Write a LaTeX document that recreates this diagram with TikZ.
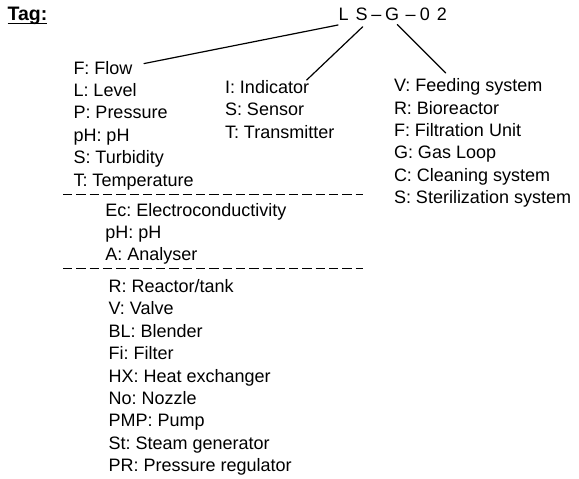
\documentclass[tikz,border=0pt]{standalone}
\usepackage{fontspec}
\setmainfont{Liberation Sans}
\frenchspacing
\begin{document}
\begin{tikzpicture}[x=1pt,y=-1pt,
  txt/.style={anchor=base west, inner sep=0pt, outer sep=0pt, font=\fontsize{18}{22}\selectfont\frenchspacing},
  tagfont/.style={txt, font=\fontsize{19.5}{22}\selectfont\bfseries},
  conn/.style={line width=1.2pt, line cap=round},
  sepline/.style={line width=1.4pt, dash pattern=on 9.3pt off 4pt}]
\useasboundingbox (0,0) rectangle (579,479);

% heading
\node[tagfont] (tag) at (7.6,20) {Tag:};
\draw[line width=1.5pt] ([yshift=-3.3pt]tag.base west) -- ([yshift=-3.3pt]tag.base east);

% tag code
\node[txt] (tagL) at (338.7,20) {L};
\node[txt] (tagS) at (355.7,20) {S};
\node[txt] (tagD1) at (371.3,20) {–};
\node[txt] (tagG) at (385,20) {G};
\node[txt] (tagD2) at (405.6,20) {–};
\node[txt] (tag0) at (419.9,20) {0};
\node[txt] (tag2) at (436.8,20) {2};

% left column: variables
\node[txt] (flow) at (73.5,74) {F: Flow};
\node[txt] (level) at (73.5,96.4) {L: Level};
\node[txt] (press) at (73.5,118.8) {P: Pressure};
\node[txt] (ph1) at (73.5,141.2) {pH: pH};
\node[txt] (turb) at (73.5,163.6) {S: Turbidity};
\node[txt] (temp) at (73.5,186) {T: Temperature};

\coordinate (sepAa) at (63,194.7);
\coordinate (sepAb) at (362.7,194.7);
\draw[sepline] (sepAa) -- (sepAb);

\node[txt] (ec) at (105.3,216) {Ec: Electroconductivity};
\node[txt] (ph2) at (105.3,238.4) {pH: pH};
\node[txt] (anal) at (105.3,260.8) {A: Analyser};

\coordinate (sepBa) at (63,268.7);
\coordinate (sepBb) at (362.7,268.7);
\draw[sepline] (sepBa) -- (sepBb);

\node[txt] (reac) at (108.6,292.5) {R: Reactor/tank};
\node[txt] (valve) at (108.6,314.9) {V: Valve};
\node[txt] (blend) at (108.6,337.3) {BL: Blender};
\node[txt] (filt) at (108.6,359.7) {Fi: Filter};
\node[txt] (hx) at (108.6,382.1) {HX: Heat exchanger};
\node[txt] (nozz) at (108.6,404.5) {No: Nozzle};
\node[txt] (pump) at (108.6,426.9) {PMP: Pump};
\node[txt] (steam) at (108.6,449.3) {St: Steam generator};
\node[txt] (preg) at (108.6,471.7) {PR: Pressure regulator};

% middle column: function
\node[txt] (ind) at (225,93.5) {I: Indicator};
\node[txt] (sens) at (225,115.9) {S: Sensor};
\node[txt] (trans) at (225,138.3) {T: Transmitter};

% right column: system
\node[txt] (feed) at (394,91.7) {V: Feeding system};
\node[txt] (bior) at (394,114.1) {R: Bioreactor};
\node[txt] (filu) at (394,136.5) {F: Filtration Unit};
\node[txt] (gas) at (394,158.9) {G: Gas Loop};
\node[txt] (clean) at (394,181.3) {C: Cleaning system};
\node[txt] (steril) at (394,203.7) {S: Sterilization system};

% connectors
\draw[conn] ([shift={(-5.7,5)}]tagL.south) -- ([shift={(11.5,-4)}]flow.east);
\draw[conn] ([shift={(0.9,6.7)}]tagS.south) -- ([shift={(-2.4,-0.4)}]ind.north east);
\draw[conn] ([shift={(5.3,4.3)}]tagG.south) -- ([shift={(51.7,-5.7)}]feed.north west);
\end{tikzpicture}
\end{document}
